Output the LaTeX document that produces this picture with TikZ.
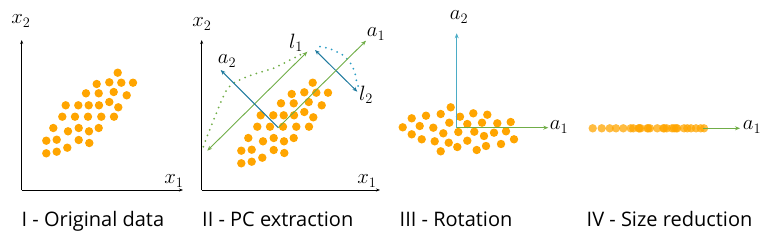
\documentclass[tikz,border=0pt]{standalone}
\usepackage{fontspec}
\newfontfamily\capfont{Open Sans}
\usetikzlibrary{arrows.meta}
\definecolor{dotorange}{HTML}{FFA500}
\definecolor{pcgreen}{HTML}{70AD47}
\definecolor{pcblue}{HTML}{1F7A9E}
\definecolor{pcdotblue}{HTML}{2A9CC4}
\definecolor{pclight}{HTML}{4BACC6}
\tikzset{
  datadot/.style={fill=dotorange, draw=none},
  axisline/.style={line width=0.8pt, -{Stealth[length=4pt,width=3pt]}},
  greenarrow/.style={pcgreen, line width=0.9pt, -{Stealth[length=5pt,width=4pt]}},
  greendouble/.style={pcgreen, line width=0.9pt, {Stealth[length=5pt,width=4pt]}-{Stealth[length=5pt,width=4pt]}},
  bluearrow/.style={pcblue, line width=1pt, -{Stealth[length=5pt,width=4pt]}},
  bluedouble/.style={pcblue, line width=1pt, {Stealth[length=5pt,width=4pt]}-{Stealth[length=5pt,width=4pt]}},
  lightarrow/.style={pclight, line width=1pt, -{Stealth[length=5pt,width=4pt]}},
  dotline/.style={line width=2pt, line cap=round, dash pattern=on 0pt off 6pt},
  mathlabel/.style={inner sep=0pt, font=\fontsize{20}{20}\selectfont},
  caption/.style={anchor=base west, inner sep=0pt, font=\capfont\fontsize{20}{20}\selectfont}
}
\begin{document}
\begin{tikzpicture}[x=1pt,y=-1pt]
\useasboundingbox (0,0) rectangle (768,249);
% ---------- Panel I ----------
\coordinate (o1) at (21.7,190);
\coordinate (y1) at (21.7,40);
\coordinate (x1e) at (183,190);
\draw[axisline] (o1) -- (y1);
\draw[axisline] (o1) -- (x1e);
\node[mathlabel] (lx2a) at (21,21) {$x_2$};
\node[mathlabel] (lx1a) at (174,181) {$x_1$};
\foreach \x/\y in {117.7/72.7, 96.7/84, 109.3/82.3, 121.3/82.7, 133/82.7, 86/93.3, 98.7/93.3, 113.7/92, 126.7/95.3, 65.7/105.3, 78.3/105.3, 88.7/105.3, 99/105.3, 109.3/102, 118.3/107.3, 62.3/116.7, 75/116.7, 88/116.7, 101.3/116.7, 114/116.7, 53.3/128, 68/131.3, 78.7/128, 89/131.3, 98.7/128, 46.3/140.7, 56.7/139.7, 78.7/140, 89.3/143, 46.3/153.3, 56.7/151.7, 67.3/147.7}
  \fill[datadot] (\x,\y) circle (4.2);
% ---------- Panel II ----------
\coordinate (o2) at (201.7,190);
\coordinate (y2) at (201.7,40);
\coordinate (x2e) at (380,190);
\draw[axisline] (o2) -- (y2);
\draw[axisline] (o2) -- (x2e);
\node[mathlabel] (lx2b) at (202,24) {$x_2$};
\node[mathlabel] (lx1b) at (367,181) {$x_1$};
\foreach \x/\y in {117.7/72.7, 96.7/84, 109.3/82.3, 121.3/82.7, 133/82.7, 86/93.3, 98.7/93.3, 113.7/92, 126.7/95.3, 65.7/105.3, 78.3/105.3, 88.7/105.3, 99/105.3, 109.3/102, 118.3/107.3, 62.3/116.7, 75/116.7, 88/116.7, 101.3/116.7, 114/116.7, 53.3/128, 68/131.3, 78.7/128, 89/131.3, 98.7/128, 46.3/140.7, 56.7/139.7, 78.7/140, 89.3/143, 46.3/153.3, 56.7/151.7, 67.3/147.7}
  \fill[datadot] (\x+195,\y+10) circle (4.2);
\coordinate (c2) at (278.3,127.7);
\coordinate (a1end) at (366,40.7);
\coordinate (a2end) at (220.7,70);
\coordinate (l1s) at (207.3,150.7);
\coordinate (l1e) at (307.3,51.7);
\coordinate (l2s) at (315,50);
\coordinate (l2e) at (357.3,91.7);
\draw[pcgreen, dotline] plot[smooth] coordinates {(203.3,146.7) (208.3,133.3) (215,116.7) (221.7,100) (226.7,90) (233.3,83.3) (243.3,78.3) (256.7,73.3) (273.3,68.3) (286.7,61.7) (303.3,53.3)};
\draw[pcdotblue, dotline] plot[smooth] coordinates {(320,46.7) (328.3,48.3) (336.7,51.7) (345,56.7) (351.7,65) (355,73.3) (356.7,81.7) (358.3,86.7)};
\draw[greendouble] (l1s) -- (l1e);
\draw[bluedouble] (l2s) -- (l2e);
\draw[bluearrow] (c2) -- (a2end);
\draw[greenarrow] (c2) -- (a1end);
\node[mathlabel] (la2b) at (227,61) {$a_2$};
\node[mathlabel] (la1b) at (376,34) {$a_1$};
\node[mathlabel] (ll1) at (296,43) {$l_1$};
\node[mathlabel] (ll2) at (366,95) {$l_2$};
% ---------- Panel III ----------
\foreach \x/\y in {450.7/107.3, 411.7/118.3, 426/115.7, 440.7/114, 460/116.7, 473.3/113.3, 487.3/114.7, 402.7/127.3, 419.7/126, 433.3/127.7, 449.3/122.7, 467.3/124, 482/122.7, 497.3/123.3, 510.7/122, 411.7/134.3, 443.3/133.3, 458.3/132, 474.3/131.7, 494/132.7, 506/131.3, 421.7/139.3, 434.7/141.3, 448.7/142.7, 467.3/140.7, 484/136, 514/139.3, 457.3/147, 476.7/150, 486/146, 501/144, 440.7/151.3}
  \fill[datadot] (\x,\y) circle (4.2);
\coordinate (c3) at (456.7,127.7);
\coordinate (a2top) at (456.7,33.3);
\coordinate (a1right) at (548.3,127.7);
\draw[lightarrow] (c3) -- (a2top);
\draw[greenarrow] (c3) -- (a1right);
\node[mathlabel] (la2c) at (459,17) {$a_2$};
\node[mathlabel] (la1c) at (559,127) {$a_1$};
% ---------- Panel IV ----------
\foreach \x in {402.7, 411.7, 419.7, 426, 433.3, 440.7, 443.3, 448.7, 449.3, 450.7, 457.3, 458.3, 460, 467.3, 473.3, 474.3, 476.7, 482, 484, 486, 487.3, 494, 497.3, 501, 506, 510.7, 514}
  \fill[datadot, opacity=0.75] (\x+190,128.3) circle (4.2);
\coordinate (c4) at (703,128.3);
\coordinate (a1r4) at (740,128.3);
\draw[greenarrow] (c4) -- (a1r4);
\node[mathlabel] (la1d) at (752,127) {$a_1$};
% ---------- Captions ----------
\node[caption] (cap1) at (21.5,226.7) {I - Original data};
\node[caption] (cap2) at (202,226.7) {II - PC extraction};
\node[caption] (cap3) at (399.5,226.7) {III - Rotation};
\node[caption] (cap4) at (586.5,226.7) {IV - Size reduction};
\end{tikzpicture}
\end{document}
